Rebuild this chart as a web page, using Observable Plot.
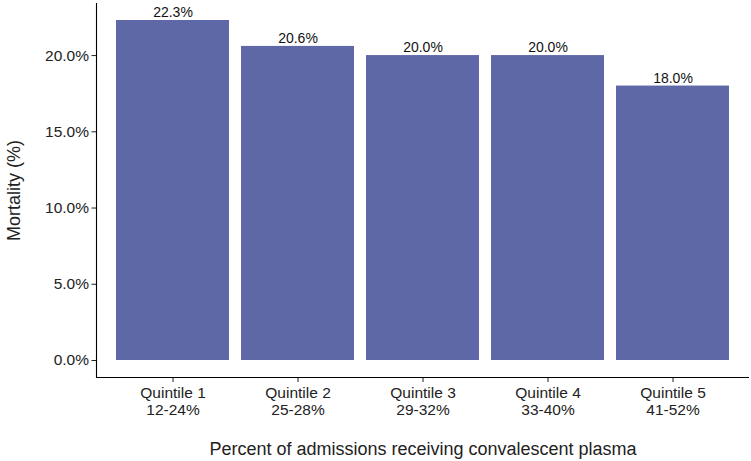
<!DOCTYPE html>
<html>
<head>
<meta charset="utf-8">
<script src="https://cdn.jsdelivr.net/npm/d3@7"></script>
<script src="https://cdn.jsdelivr.net/npm/@observablehq/plot@0.6"></script>
<style>
  body { margin: 0; background: #fff; }
  svg { font-family: "Liberation Sans", Arial, sans-serif; }
</style>
</head>
<body>
<div id="chart"></div>
<script>
const quintiles = ["Quintile 1", "Quintile 2", "Quintile 3", "Quintile 4", "Quintile 5"];
const ranges = ["12-24%", "25-28%", "29-32%", "33-40%", "41-52%"];
const mortality = [22.3, 20.6, 20.0, 20.0, 18.0];
const yTicks = [0, 5, 10, 15, 20];

const data = quintiles.map((q, i) => ({q, range: ranges[i], value: mortality[i]}));
const fmt = d => d.toFixed(1) + "%";
const maxV = d3.max(mortality);

const plot = Plot.plot({
  width: 751,
  height: 461,
  marginLeft: 96,
  marginRight: 2,
  marginTop: 3,
  marginBottom: 84,
  style: {fontFamily: '"Liberation Sans", Arial, sans-serif', background: "#fff"},
  x: {domain: quintiles, paddingInner: 0.1, paddingOuter: 0.15, align: 0.5},
  y: {domain: [-maxV * 0.05, maxV * 1.05]},
  marks: [
    Plot.barY(data, {x: "q", y1: 0, y2: "value", fill: "#5e68a6"}),
    Plot.text(data, {x: "q", y: "value", text: d => fmt(d.value), dy: -8, fontSize: 14, fill: "#111"}),
    Plot.axisY(yTicks, {tickFormat: fmt, tickSize: 4.5, tickPadding: 3, fontSize: 15.5, color: "#222",
      label: "Mortality (%)", labelAnchor: "center", labelArrow: false, labelOffset: 89}),
    Plot.axisX({tickFormat: (d, i) => d + "\n" + ranges[quintiles.indexOf(d)], tickSize: 5, tickPadding: 4,
      fontSize: 15.5, lineHeight: 1.08, color: "#222", label: "Percent of admissions receiving convalescent plasma",
      labelAnchor: "center", labelArrow: false, labelOffset: 77}),
    Plot.ruleY([-maxV * 0.05], {stroke: "#000", strokeWidth: 1.1}),
    Plot.frame({anchor: "left", stroke: "#000", strokeWidth: 1.1})
  ]
});
document.getElementById("chart").appendChild(plot);
// Enlarge axis titles
plot.querySelectorAll("g[aria-label='y-axis label'] text, g[aria-label='x-axis label'] text").forEach(t => t.setAttribute("font-size", "18"));
</script>
</body>
</html>
